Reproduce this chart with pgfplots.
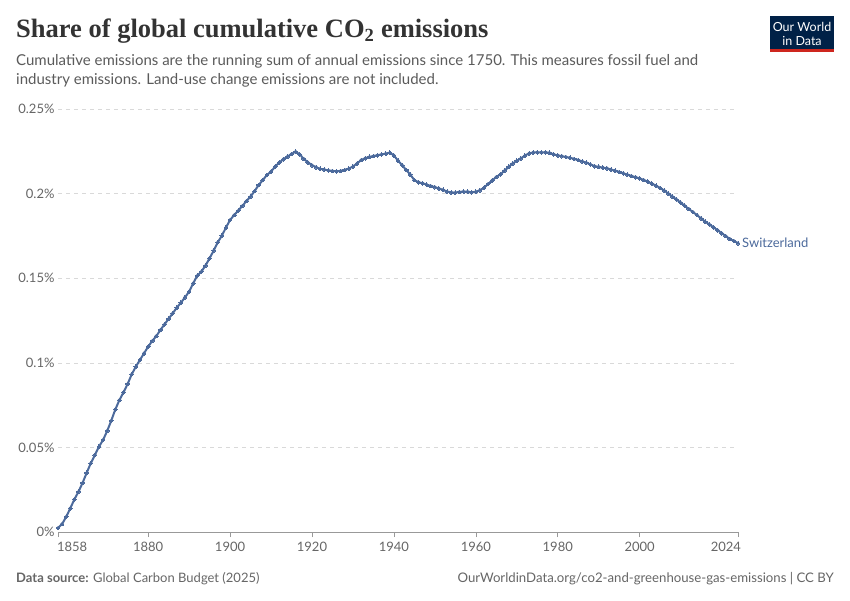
\documentclass[border=0pt]{standalone}
\usepackage{pgfplots}
\pgfplotsset{compat=1.18}
\usepackage{fontspec}
\setmainfont{Lato}
\newfontfamily\titlefont{Liberation Serif}
\definecolor{line}{RGB}{76,106,156}
\definecolor{owidblue}{RGB}{0,33,71}
\definecolor{owidred}{RGB}{206,38,30}
\definecolor{subtxt}{RGB}{91,91,91}
\definecolor{ticktxt}{RGB}{102,102,102}
\definecolor{titletxt}{RGB}{51,51,51}
\begin{document}
\begin{tikzpicture}[x=1pt,y=1pt]
\fill[white] (0,0) rectangle (850,600);
% title
\node[anchor=base west,inner sep=0,text=titletxt,font=\titlefont\bfseries\fontsize{26.5}{30}\selectfont] at (16,562) {Share of global cumulative CO\textsubscript{2} emissions};
\node[anchor=base west,inner sep=0,text=subtxt,font=\fontsize{15}{18}\selectfont] at (16,534) {Cumulative emissions are the running sum of annual emissions since 1750. This measures fossil fuel and};
\node[anchor=base west,inner sep=0,text=subtxt,font=\fontsize{15}{18}\selectfont] at (16,515) {industry emissions. Land-use change emissions are not included.};
% logo
\fill[owidblue] (770,548) rectangle (834,584);
\fill[owidred] (770,548) rectangle (834,551);
\node[text=white,inner sep=0,font=\fontsize{12.5}{13}\selectfont] at (802,573) {Our World};
\node[text=white,inner sep=0,font=\fontsize{12.5}{13}\selectfont] at (802,559) {in Data};
% footer
\node[anchor=base west,inner sep=0,text=ticktxt,font=\fontsize{13}{15}\selectfont] at (16,18) {\textbf{Data source:} Global Carbon Budget (2025)};
\node[anchor=base east,inner sep=0,text=ticktxt,font=\fontsize{13.2}{15}\selectfont] at (834,18) {OurWorldinData.org/co2-and-greenhouse-gas-emissions | CC BY};
\begin{axis}[
  at={(58pt,68pt)}, anchor=south west,
  scale only axis, width=680pt, height=423pt,
  xmin=1858, xmax=2024, ymin=0, ymax=0.25,
  axis x line*=bottom, axis y line*=left,
  x axis line style={draw=black!40,-},
  y axis line style={draw=none},
  xtick={1858,1880,1900,1920,1940,1960,1980,2000,2024},
  xticklabels={\makebox[0pt][l]{\hspace{-1pt}1858},1880,1900,1920,1940,1960,1980,2000,\makebox[0pt][r]{2024\hspace{-3pt}}},
  x tick style={draw=black!40, line width=0.6pt},
  xtick align=outside, major tick length=5pt,
  ytick={0,0.05,0.1,0.15,0.2,0.25},
  yticklabels={0\%,0.05\%,0.1\%,0.15\%,0.2\%,0.25\%},
  ymajorgrids, y grid style={draw=black!15, dash pattern=on 4pt off 4pt, line width=0.6pt},
  y tick style={draw=none},
  tick label style={text=ticktxt, font=\fontsize{13}{15}\selectfont},
  xticklabel style={yshift=-2pt},
  yticklabel style={xshift=0pt},
  /pgf/number format/assume math mode=true,
  clip=false,
]
\addplot[color=line, line width=2pt, mark=*, mark size=1.9pt, mark options={fill=line,draw=line,line width=0pt}] table {
x y
1858 0.0024
1859 0.0047
1860 0.009
1861 0.014
1862 0.0193
1863 0.0238
1864 0.029
1865 0.035
1866 0.0406
1867 0.0455
1868 0.0504
1869 0.0544
1870 0.0597
1871 0.0658
1872 0.0725
1873 0.078
1874 0.0826
1875 0.0875
1876 0.0932
1877 0.0977
1878 0.1017
1879 0.1056
1880 0.1095
1881 0.1129
1882 0.1158
1883 0.1194
1884 0.1227
1885 0.126
1886 0.1292
1887 0.1326
1888 0.1355
1889 0.1387
1890 0.142
1891 0.147
1892 0.1515
1893 0.1539
1894 0.1574
1895 0.1618
1896 0.1663
1897 0.1712
1898 0.1751
1899 0.1799
1900 0.1844
1901 0.1873
1902 0.1899
1903 0.1927
1904 0.1956
1905 0.1982
1906 0.2015
1907 0.2051
1908 0.208
1909 0.211
1910 0.213
1911 0.2159
1912 0.2183
1913 0.2203
1914 0.2218
1915 0.2234
1916 0.2248
1917 0.2232
1918 0.2205
1919 0.2185
1920 0.2168
1921 0.2156
1922 0.2146
1923 0.2142
1924 0.2137
1925 0.2134
1926 0.2132
1927 0.2134
1928 0.2140
1929 0.2148
1930 0.2160
1931 0.2178
1932 0.2198
1933 0.2209
1934 0.2217
1935 0.2222
1936 0.2227
1937 0.2232
1938 0.2236
1939 0.2242
1940 0.2225
1941 0.2195
1942 0.2168
1943 0.2140
1944 0.2112
1945 0.2080
1946 0.2067
1947 0.2061
1948 0.2053
1949 0.2045
1950 0.2038
1951 0.2030
1952 0.2022
1953 0.2012
1954 0.2007
1955 0.2006
1956 0.2010
1957 0.2012
1958 0.2011
1959 0.2008
1960 0.2011
1961 0.2020
1962 0.2035
1963 0.2057
1964 0.2078
1965 0.2098
1966 0.2114
1967 0.2135
1968 0.2158
1969 0.2178
1970 0.2194
1971 0.2208
1972 0.2225
1973 0.2238
1974 0.2243
1975 0.2244
1976 0.2244
1977 0.2244
1978 0.2241
1979 0.2232
1980 0.2226
1981 0.2221
1982 0.2216
1983 0.2212
1984 0.2205
1985 0.2198
1986 0.2190
1987 0.2183
1988 0.2172
1989 0.2162
1990 0.2158
1991 0.2153
1992 0.2150
1993 0.2142
1994 0.2135
1995 0.2128
1996 0.2120
1997 0.2112
1998 0.2104
1999 0.2097
2000 0.2090
2001 0.2080
2002 0.2070
2003 0.2058
2004 0.2047
2005 0.2033
2006 0.2018
2007 0.2000
2008 0.1982
2009 0.1965
2010 0.1947
2011 0.1928
2012 0.1909
2013 0.1891
2014 0.1873
2015 0.1853
2016 0.1834
2017 0.1818
2018 0.1801
2019 0.1784
2020 0.1766
2021 0.1749
2022 0.1732
2023 0.1720
2024 0.1707
};
\node[anchor=west, inner sep=0, text=line, font=\fontsize{13}{15}\selectfont] at (axis cs:2024,0.1707) {\hspace{4pt}Switzerland};
\end{axis}
\end{tikzpicture}
\end{document}
